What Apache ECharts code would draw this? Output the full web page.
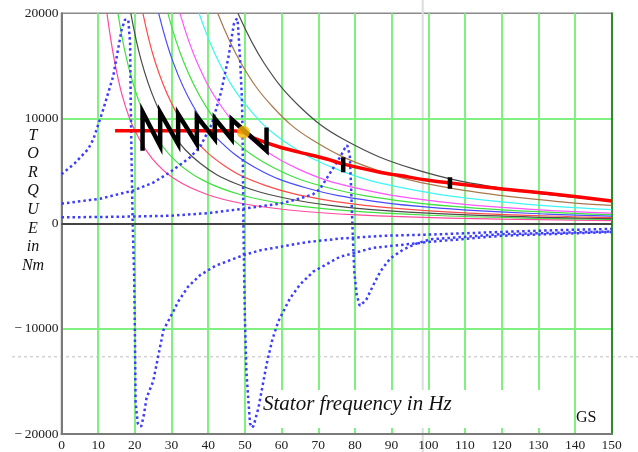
<!DOCTYPE html>
<html>
<head>
<meta charset="utf-8">
<script src="https://cdn.jsdelivr.net/npm/echarts@6/dist/echarts.min.js"></script>
<style>
  html, body { margin: 0; padding: 0; background: #fff; }
  #chart { width: 638px; height: 452px; }
</style>
</head>
<body>
<div id="chart"></div>
<script>
// ---- values ----
// thin torque limit curves, [frequency Hz, torque Nm]
const curvePink = [[12.4,20000],[14.3,15770],[16.7,12010],[19.8,9000],[24.8,6160],[31,4210],[39.7,2770],[49.6,1890],[62,1300],[80.6,830],[105.4,526],[150,285]];
const curveGreen = [[15.4,20000],[17.7,15730],[20.8,11940],[24.6,8910],[30.8,6070],[38.5,4140],[49.3,2700],[61.6,1840],[77,1260],[100.1,800],[130.9,504],[150,410]];
const curveBlack = [[18.9,20000],[21.7,15550],[25.5,11650],[30.2,8580],[37.8,5740],[47.3,3840],[60.5,2460],[75.6,1650],[94.5,1100],[122.9,690],[150,470]];
const curveRed = [[22.2,20000],[25.5,15420],[30,11450],[35.5,8340],[44.4,5510],[55.5,3640],[71,2300],[88.8,1520],[111,1000],[144.3,615],[150,570]];
const curveBlue = [[26.5,20000],[30.5,15290],[35.8,11240],[42.4,8110],[53,5290],[66.3,3440],[84.8,2140],[106,1400],[132.5,910],[150,720]];
const curveGreen2 = [[29,20000],[33.4,15290],[39.2,11240],[46.4,8110],[58,5290],[72.5,3440],[92.8,2140],[116,1400],[145,910],[150,850]];
const curveMagenta = [[32.3,20000],[37.1,15230],[43.6,11140],[51.7,8000],[64.6,5180],[80.8,3350],[103.4,2070],[129.2,1340],[150,1010]];
const curveCyan = [[37.5,20000],[43.1,15230],[50.6,11140],[60,8000],[75,5180],[93.8,3350],[120,2070],[150,1330]];
const curveBrown = [[42.6,20000],[49,15230],[57.5,11140],[68.2,8000],[85.2,5180],[106.5,3350],[136.3,2070],[150,1735]];
const curveDarkGray = [[48.1,20000],[55.3,15230],[64.9,11140],[77,8000],[96.2,5180],[120.3,3350],[150,2180]];

// dotted torque curves for three supply frequencies
const dotted20 = [[0,4700],[3.5,5700],[7.3,7100],[8.7,8040],[11.4,10880],[14.1,14030],[16.4,18450],[17.3,19390],[18.2,19390],[18.7,17190],[18.9,10880],[19.1,6150],[19.4,190],[19.8,-5000],[20,-10000],[20.2,-17000],[20.8,-19000],[21.7,-19300],[22.4,-18300],[23.2,-16560],[25,-14980],[27.8,-10110],[30.5,-8350],[31.8,-7410],[34.5,-6000],[37.8,-4890],[42,-4000],[46,-3470],[49.6,-3000],[54,-2550],[59.6,-2200],[67,-1750],[75.9,-1420],[88,-1150],[100.5,-1040],[119.6,-790],[135,-620],[150,-500]];
const dotted50 = [[0,1900],[10.5,2370],[19.6,3150],[25,3900],[29.6,4890],[35,6300],[37.8,7300],[41,9500],[43.5,12500],[45.5,15800],[47,19000],[47.8,19500],[48.1,19000],[48.7,15500],[49.2,11800],[49.4,7400],[49.6,0],[49.8,-5000],[50,-9000],[50.4,-14000],[50.9,-16600],[51.4,-19000],[51.9,-19400],[52.4,-19200],[53.7,-17500],[55.9,-13400],[57.5,-11000],[59.1,-9300],[62.3,-7100],[65,-5800],[68.6,-4570],[75.9,-3150],[85,-2300],[100.5,-1730],[120,-1150],[150,-800]];
const dotted80 = [[0,600],[15,650],[29.6,750],[40,1000],[49.6,1420],[59.6,1900],[65,2400],[68.6,2800],[70.5,3300],[73.2,4800],[75.9,6300],[77.3,7200],[77.9,7450],[78.6,6500],[79,3000],[79.4,-1000],[79.8,-4500],[80.5,-6800],[81.3,-7800],[81.8,-7880],[83,-7300],[85,-5840],[87,-4500],[89.6,-3310],[93,-2500],[96.8,-1890],[100.5,-1490],[120,-1000],[150,-750]];

// thick envelope, sawtooth, operating point and two markers
const envelope = [[14.6,8830],[46.8,8830],[50,8600],[53,8050],[59.6,7260],[65,6780],[72.3,6150],[76.7,5680],[86.8,4890],[92.3,4570],[100.5,4100],[119.6,3310],[133.2,2840],[150,2150]];
const sawtooth = [[22.1,6930],[22.1,10620],[26.9,7410],[26.9,10570],[31.8,7570],[31.8,10410],[36.9,7570],[36.9,10190],[41.8,8040],[41.8,10000],[46.4,8040],[46.4,9930],[55.9,6930],[55.9,9150]];
const operatingPoint = [[49.6,8690]];
const marker1 = [[76.8,6310],[76.8,4890]];
const marker2 = [[105.9,4420],[105.9,3310]];

const thinCurves = [curvePink, curveGreen, curveBlack, curveRed, curveBlue, curveGreen2, curveMagenta, curveCyan, curveBrown, curveDarkGray];
const thinColors = ['#ff4a9e', '#3fe03f', '#4a4a4a', '#ff4a4a', '#4a4aff', '#3fe03f', '#ff55ff', '#3ff5f5', '#a8784c', '#4a4a4a'];
const dottedCurves = [dotted20, dotted50, dotted80];

const serif = '"Liberation Serif", "DejaVu Serif", serif';
const chart = echarts.init(document.getElementById('chart'));

const series = [];
thinCurves.forEach((d, i) => {
  series.push({
    type: 'line', data: d, showSymbol: false, smooth: 0.4,
    lineStyle: { color: thinColors[i], width: 1.2 }, z: 3
  });
});
dottedCurves.forEach(d => {
  series.push({
    type: 'line', data: d, showSymbol: false,
    lineStyle: { color: '#3c3cff', width: 2.5, type: [2.5, 3] }, z: 4
  });
});
series.push({
  type: 'line', data: envelope, showSymbol: false, smooth: 0.3,
  lineStyle: { color: '#ff0000', width: 3.5 }, z: 5,
  markLine: {
    silent: true, symbol: 'none', label: { show: false },
    lineStyle: { color: '#444', width: 2, type: 'solid' },
    data: [{ yAxis: 0 }]
  }
});
series.push({
  type: 'line', data: sawtooth, showSymbol: false,
  lineStyle: { color: '#000', width: 4.5, join: 'miter' }, z: 6
});
[marker1, marker2].forEach(d => {
  series.push({
    type: 'line', data: d, showSymbol: false,
    lineStyle: { color: '#000', width: 4.5 }, z: 6
  });
});
series.push({
  type: 'scatter', data: operatingPoint, symbolSize: 13,
  itemStyle: { color: '#f5b50a' }, z: 7
});

chart.setOption({
  animation: false,
  grid: { left: 61.5, right: 26.3, top: 13.3, bottom: 15.3, show: true, borderColor: '#8a8a8a', borderWidth: 1.5 },
  xAxis: {
    type: 'value', min: 0, max: 150, interval: 10,
    axisLine: { onZero: false, lineStyle: { color: '#7a7a7a', width: 2 } },
    axisTick: { show: false },
    axisLabel: { color: '#222', fontFamily: serif, fontSize: 13.5, margin: 4 },
    splitLine: { showMinLine: false, lineStyle: { color: '#80f080', width: 2 } }
  },
  yAxis: [{
    type: 'value', min: -20000, max: 20000, interval: 10000,
    axisLine: { show: true, lineStyle: { color: '#7a7a7a', width: 2 } },
    axisTick: { show: false },
    axisLabel: {
      color: '#222', fontFamily: serif, fontSize: 13.5, margin: 3,
      formatter: v => v === 0 ? '0' : (v < 0 ? '\u2212\u2009' + (-v) : String(v))
    },
    splitLine: { showMinLine: false, showMaxLine: false, lineStyle: { color: '#80f080', width: 2 } }
  }, {
    type: 'value', position: 'right', min: -20000, max: 20000, interval: 10000,
    axisLine: { show: true, lineStyle: { color: '#2e8b2e', width: 2 } },
    axisTick: { show: false }, axisLabel: { show: false }, splitLine: { show: false }
  }],
  series: series,
  graphic: [
    { type: 'line', z: 0, shape: { x1: 422.7, y1: 0, x2: 422.7, y2: 452 }, style: { stroke: '#dcdcdc', lineWidth: 2 } },
    { type: 'line', z: 0, shape: { x1: 12, y1: 356.7, x2: 638, y2: 356.7 }, style: { stroke: '#d2d2d2', lineWidth: 1.5, lineDash: [3, 3] } },
    { type: 'rect', z: 1, shape: { x: 259, y: 390, width: 287, height: 38 }, style: { fill: '#fff' } },
    { type: 'text', z: 10, x: 263, y: 404.5, style: { text: 'Stator frequency in Hz', font: 'italic 21px ' + serif, fill: '#111', verticalAlign: 'middle' } },
    { type: 'text', z: 10, x: 576, y: 417.5, style: { text: 'GS', font: '16px ' + serif, fill: '#111', verticalAlign: 'middle' } },
    { type: 'text', z: 10, x: 33, y: 126, style: { text: 'T\nO\nR\nQ\nU\nE\nin\nNm', font: 'italic 16px ' + serif, fill: '#111', align: 'center', verticalAlign: 'top', lineHeight: 18.6 } }
  ]
});
</script>
</body>
</html>
